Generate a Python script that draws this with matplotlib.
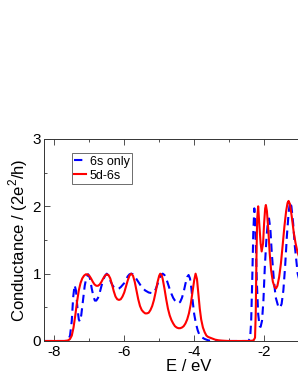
import matplotlib
matplotlib.use("Agg")
import matplotlib.pyplot as plt
from matplotlib.ticker import MultipleLocator

plt.rcParams["font.family"] = ["Liberation Sans", "DejaVu Sans"]
plt.rcParams["mathtext.fontset"] = "custom"
plt.rcParams["mathtext.rm"] = "Liberation Sans"
plt.rcParams["axes.unicode_minus"] = False

# 5d-6s conductance
e_red = [-8.3, -7.7, -7.6, -7.55, -7.5, -7.45, -7.4, -7.35, -7.3, -7.25, -7.2, -7.15,
         -7.1, -7.05, -7.0, -6.95, -6.9, -6.85, -6.8, -6.75, -6.7, -6.65, -6.6, -6.55,
         -6.5, -6.45, -6.4, -6.35, -6.3, -6.25, -6.2, -6.15, -6.1, -6.05, -6.0, -5.95,
         -5.9, -5.85, -5.8, -5.75, -5.7, -5.65, -5.6, -5.55, -5.5, -5.45, -5.4, -5.35,
         -5.3, -5.25, -5.2, -5.15, -5.1, -5.05, -5.0, -4.97, -4.93, -4.9, -4.85, -4.8,
         -4.75, -4.7, -4.65, -4.6, -4.55, -4.5, -4.45, -4.4, -4.35, -4.3, -4.25, -4.2,
         -4.15, -4.1, -4.05, -4.0, -3.96, -3.92, -3.88, -3.84, -3.8, -3.75, -3.7, -3.65,
         -3.6, -3.5, -3.4, -3.3, -3.2, -3.0, -2.4, -2.3, -2.26, -2.24, -2.22, -2.2,
         -2.17, -2.14, -2.1, -2.07, -2.03, -2.0, -1.97, -1.95, -1.92, -1.88, -1.84, -1.8,
         -1.75, -1.7, -1.66, -1.62, -1.57, -1.52, -1.47, -1.42, -1.37, -1.33, -1.3, -1.26,
         -1.21, -1.15, -1.1, -1.04, -1.0, -0.9]
g_red = [0.0, 0.0, 0.01, 0.03, 0.08, 0.2, 0.38, 0.58, 0.75, 0.86, 0.93, 0.97,
         0.99, 0.99, 0.97, 0.93, 0.88, 0.84, 0.82, 0.82, 0.84, 0.88, 0.93, 0.97,
         0.99, 0.98, 0.93, 0.84, 0.74, 0.66, 0.62, 0.61, 0.62, 0.66, 0.72, 0.81,
         0.9, 0.97, 1.0, 0.97, 0.88, 0.75, 0.62, 0.52, 0.46, 0.43, 0.41, 0.41,
         0.42, 0.46, 0.52, 0.61, 0.73, 0.87, 0.97, 1.0, 0.98, 0.92, 0.78, 0.62,
         0.48, 0.38, 0.31, 0.26, 0.22, 0.2, 0.19, 0.19, 0.2, 0.22, 0.26, 0.32,
         0.41, 0.54, 0.72, 0.9, 1.0, 0.92, 0.7, 0.48, 0.32, 0.2, 0.13, 0.08,
         0.06, 0.04, 0.02, 0.01, 0.005, 0.0, 0.0, 0.01, 0.05, 0.4, 1.2, 1.8,
         2.0, 1.75, 1.45, 1.33, 1.45, 1.75, 1.97, 2.02, 1.93, 1.65, 1.3, 1.05,
         0.88, 0.8, 0.78, 0.82, 0.95, 1.15, 1.42, 1.7, 1.93, 2.05, 2.08, 2.03,
         1.85, 1.6, 1.45, 1.31, 1.25, 1.2]

# 6s only conductance
e_blue = [-8.3, -7.7, -7.6, -7.55, -7.5, -7.46, -7.42, -7.38, -7.34, -7.3, -7.27, -7.23,
          -7.18, -7.13, -7.08, -7.03, -6.98, -6.93, -6.88, -6.84, -6.8, -6.75, -6.7, -6.65,
          -6.6, -6.55, -6.5, -6.45, -6.4, -6.35, -6.3, -6.25, -6.2, -6.15, -6.1, -6.0,
          -5.95, -5.9, -5.85, -5.8, -5.75, -5.7, -5.6, -5.5, -5.4, -5.3, -5.2, -5.15,
          -5.1, -5.05, -5.0, -4.95, -4.9, -4.85, -4.8, -4.75, -4.7, -4.65, -4.6, -4.55,
          -4.5, -4.45, -4.4, -4.35, -4.3, -4.25, -4.2, -4.16, -4.12, -4.08, -4.04, -4.0,
          -3.95, -3.9, -3.85, -3.8, -3.7, -3.6, -3.5, -2.45, -2.4, -2.37, -2.34, -2.31,
          -2.28, -2.25, -2.21, -2.17, -2.13, -2.1, -2.06, -2.02, -1.98, -1.93, -1.89, -1.86,
          -1.82, -1.78, -1.72, -1.67, -1.6, -1.55, -1.5, -1.45, -1.4, -1.35, -1.3, -1.26,
          -1.22, -1.17, -1.12, -1.07, -1.04, -1.0, -0.9]
g_blue = [0.0, 0.0, 0.02, 0.08, 0.3, 0.65, 0.83, 0.75, 0.5, 0.32, 0.29, 0.38,
          0.6, 0.82, 0.95, 0.99, 0.93, 0.78, 0.66, 0.6, 0.6, 0.64, 0.72, 0.82,
          0.91, 0.97, 1.0, 0.97, 0.9, 0.84, 0.8, 0.78, 0.77, 0.78, 0.8, 0.86,
          0.91, 0.96, 0.99, 1.0, 0.99, 0.96, 0.88, 0.8, 0.75, 0.72, 0.71, 0.72,
          0.77, 0.84, 0.92, 0.98, 1.0, 0.98, 0.93, 0.85, 0.77, 0.7, 0.64, 0.6,
          0.57, 0.56, 0.58, 0.64, 0.73, 0.85, 0.95, 0.98, 0.93, 0.78, 0.58, 0.4,
          0.26, 0.16, 0.09, 0.06, 0.03, 0.01, 0.0, 0.0, 0.04, 0.3, 0.9, 1.6,
          1.97, 1.7, 0.9, 0.4, 0.22, 0.21, 0.3, 0.6, 1.1, 1.55, 1.78, 1.82,
          1.65, 1.3, 0.9, 0.65, 0.52, 0.49, 0.55, 0.75, 1.1, 1.55, 1.9, 2.07,
          2.0, 1.75, 1.4, 1.15, 1.0, 0.92, 0.8]

x_ticks = [-8, -6, -4, -2]
y_ticks = [0, 1, 2, 3]

fig = plt.figure(figsize=(2.98, 3.85), dpi=100)
ax = fig.add_axes([0.147, 0.1143, 0.974, 0.5247])

ax.plot(e_blue, g_blue, color="#0000ff", lw=1.5, ls=(0, (4, 2.5)), label="6s only")
ax.plot(e_red, g_red, color="#ff0000", lw=1.5, label="5d-6s")

ax.set_xlim(-8.3, 0)
ax.set_ylim(0, 3)
ax.set_xticks(x_ticks)
ax.set_yticks(y_ticks)
ax.xaxis.set_minor_locator(MultipleLocator(1))
ax.yaxis.set_minor_locator(MultipleLocator(0.5))
ax.tick_params(which="both", direction="in", top=True, right=True, labelsize=11,
               width=0.6, color="#333333")
ax.tick_params(which="major", length=4)
ax.tick_params(which="minor", length=2.5)
ax.tick_params(axis="y", pad=2)
ax.tick_params(axis="x", pad=3)
for s in ax.spines.values():
    s.set_linewidth(0.7)
    s.set_color("#333333")

ax.set_xlabel("E / eV", fontsize=12, labelpad=0)
ax.set_ylabel("Conductance / (2e$^{\\mathrm{2}}$/h)", fontsize=12, labelpad=2)

leg = ax.legend(loc="upper left", bbox_to_anchor=(0.096, 0.93), borderaxespad=0,
                fontsize=9, handlelength=0.95, handletextpad=0.3, borderpad=0.2,
                labelspacing=0.15, fancybox=False, framealpha=1)
leg.get_frame().set_edgecolor("#555555")
leg.get_frame().set_linewidth(0.6)

fig.savefig("out.png", dpi=100)
